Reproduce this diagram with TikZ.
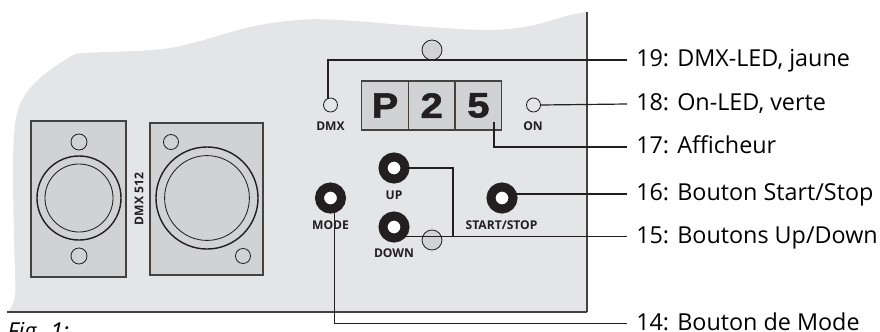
\documentclass[tikz,border=0pt]{standalone}
\usepackage{fontspec}
\setmainfont{Open Sans}
\newfontfamily\digitfont[FakeStretch=1.14,FakeBold=1.5]{Liberation Sans}
\definecolor{plategray}{HTML}{E4E5E7}
\definecolor{panelgray}{HTML}{D1D2D4}
\definecolor{inkgray}{HTML}{231F20}
\begin{document}
\begin{tikzpicture}[
    x=0.025cm, y=-0.025cm,
    panel/.style={rectangle, draw=inkgray!85, fill=panelgray, line width=0.8pt, outer sep=0pt, inner sep=0pt},
    hole/.style={circle, draw=inkgray, line width=0.6pt, outer sep=0pt, inner sep=0pt},
    led/.style={hole, fill=plategray, minimum size=3.5mm},
    screw/.style={hole, fill=panelgray, minimum size=5mm},
    knob/.style={circle, draw=inkgray, fill=white, line width=2.25mm, minimum size=5.5mm, outer sep=0pt, inner sep=0pt},
    cell/.style={panel, line width=1pt, minimum width=11.67mm, minimum height=12.25mm, text=inkgray, font=\digitfont\bfseries\fontsize{25}{25}\selectfont},
    tag/.style={text=inkgray, inner sep=0pt, font=\bfseries\fontsize{8.6}{8.6}\selectfont},
    leader/.style={draw=inkgray, line width=0.85pt},
    lbl/.style={anchor=west, inner xsep=2.25mm, inner ysep=0pt, text height=4mm, text depth=0.65mm, text=black, font=\fontsize{16.6}{16.6}\selectfont}
]
\useasboundingbox (0,0) rectangle (880,331);

\fill[plategray] plot[smooth, tension=0.55] coordinates {(7,312) (15,296) (14,240) (13,170) (15,125) (22,100) (40,78) (70,57) (85,53) (170,48) (250,27) (298,20) (340,20) (430,27) (490,30) (530,26) (570,15) (587,12)} -- (587,312) -- cycle;
\draw[inkgray!85, line width=1pt] (587,12) -- (587,312);
\draw[inkgray!85, line width=1.1pt] (587,312) -- (7,312);

\node[panel, minimum width=2.375cm, minimum height=3.9cm] (xlrleft) at (78.5,199) {};
\node[panel, minimum width=2.825cm, minimum height=3.8cm] (xlrright) at (206.5,199) {};
\node[hole, line width=1pt, minimum size=2.1cm] (ringleft) at (79,198) {};
\node[hole, minimum size=1.7cm] (coreleft) at (79,198) {};
\node[hole, minimum size=4mm] (holea) at (79,142) {};
\node[hole, minimum size=4mm] (holeb) at (79,256) {};
\node[hole, line width=1pt, minimum size=2.55cm] (ringright) at (207,198) {};
\node[hole, minimum size=2.12cm] (coreright) at (207,198) {};
\node[hole, minimum size=3.75mm] (holec) at (171,142) {};
\node[hole, minimum size=3.75mm] (holed) at (243,256) {};
\node[tag, rotate=90] (dmxfive) at (139,199) {DMX 512};

\node[screw] (screwtop) at (432,50) {};
\node[screw] (screwbot) at (432,240) {};
\node[cell] (cellp) at (385,105.5) {P};
\node[cell] (celltwo) at (431.7,105.5) {2};
\node[cell] (cellfive) at (478.4,105.5) {5};

\node[led] (dmxled) at (330.5,105) {};
\node[led] (onled) at (533.5,105) {};
\node[tag] (dmxtag) at (330.5,126) {DMX};
\node[tag] (ontag) at (533,126) {ON};

\node[knob] (up) at (394,168) {};
\node[knob] (down) at (394,227) {};
\node[knob] (mode) at (330.5,198) {};
\node[knob] (start) at (502,198) {};
\node[tag] (uptag) at (394,195) {UP};
\node[tag] (downtag) at (394,253) {DOWN};
\node[tag] (modetag) at (330.5,225) {MODE};
\node[tag] (starttag) at (501.5,225) {START/STOP};

\node[lbl] (lbldmx) at (627,60) {19: DMX-LED, jaune};
\node[lbl] (lblon) at (627,104) {18: On-LED, verte};
\node[lbl] (lbldisp) at (627,147) {17: Afficheur};
\node[lbl] (lblstart) at (627,194) {16: Bouton Start/Stop};
\node[lbl] (lblupdown) at (627,236.5) {15: Boutons Up/Down};
\node[lbl] (lblmode) at (627,323.5) {14: Bouton de Mode};
\node[anchor=base west, inner sep=0pt, font=\itshape\fontsize{16.6}{16.6}\selectfont] (fig) at (7,339) {Fig. 1:};

\coordinate (dmxend) at (328,98);
\coordinate (dispend) at (494,122);
\coordinate (startend) at (515,194);
\coordinate (upend) at (409,168);
\coordinate (turn) at (453,236.5);
\coordinate (downend) at (400,236.5);
\coordinate (modeend) at (334.5,206);

\draw[leader] (dmxend) |- (lbldmx.west);
\draw[leader] (onled.east) -- (lblon.west);
\draw[leader] (dispend) |- (lbldisp.west);
\draw[leader] (startend) -- (lblstart.west);
\draw[leader] (upend) -| (turn);
\draw[leader] (downend) -- (lblupdown.west);
\draw[leader, line width=1.1pt] (modeend) |- (lblmode.west);
\end{tikzpicture}
\end{document}
